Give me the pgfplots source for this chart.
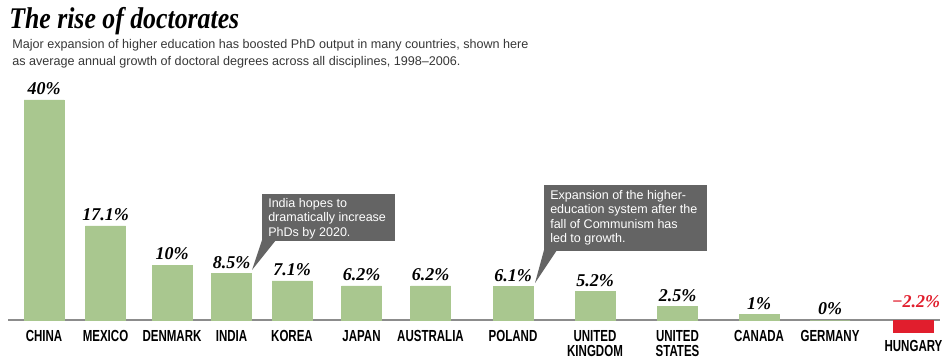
\documentclass[border=0pt]{standalone}
\usepackage{fontspec}
\setmainfont{Liberation Sans}
\newfontfamily\condfont[FakeStretch=0.72]{Liberation Sans}
\newfontfamily\valfont{Liberation Serif}
\newfontfamily\titlefont[FakeStretch=0.86]{Liberation Serif}
\usepackage{pgfplots}
\pgfplotsset{compat=1.18}
\definecolor{bargreen}{RGB}{169,199,143}
\definecolor{hred}{RGB}{225,30,45}
\definecolor{boxgray}{RGB}{100,100,100}
\definecolor{subgray}{RGB}{55,55,55}
\definecolor{axgray}{RGB}{140,140,140}
\begin{document}
\begin{tikzpicture}
\begin{axis}[
  name=ax,
  scale only axis, width=711pt, height=271.5pt,
  xmin=0, xmax=948, ymin=-7.6364, ymax=58.1818,
  axis x line=middle, axis y line=none,
  x axis line style={axgray, line width=1.2pt, -, shorten <=6pt, shorten >=6pt},
  xtick={44,105.5,172,231.5,292,361.5,430.5,513,595,677.5,759,830,913.5},
  xticklabels={CHINA,MEXICO,DENMARK,INDIA,KOREA,JAPAN,AUSTRALIA,POLAND,{UNITED\\KINGDOM},{UNITED\\STATES},CANADA,GERMANY,{\rule{0pt}{16pt}HUNGARY}},
  major tick length=0pt,
  xticklabel style={font=\condfont\bfseries\fontsize{12}{11.5}\selectfont, align=center, anchor=north, yshift=-4pt, text=black},
  ytick=\empty,
  clip=false,
  ybar, bar width=30pt,
]
\addplot[bar shift=0pt, fill=bargreen, draw=bargreen, line width=0.6pt,
  nodes near coords, point meta=explicit symbolic,
  every node near coord/.append style={font=\valfont\bfseries\itshape\fontsize{13.5}{13.5}\selectfont, text=black}]
  coordinates {
  (44,40) [40\%]
  (105.5,17.1) [17.1\%]
  (172,10) [10\%]
  (231.5,8.5) [8.5\%]
  (292,7.1) [7.1\%]
  (361.5,6.2) [6.2\%]
  (430.5,6.2) [6.2\%]
  (513,6.1) [6.1\%]
  (595,5.2) [5.2\%]
  (677.5,2.5) [2.5\%]
  (759,1) [1\%]
  (830,0) [0\%]
  };
\addplot[bar shift=0pt, fill=hred, draw=hred, line width=0.6pt]
  coordinates {(913.5,-2.2)};
\node[font=\valfont\bfseries\itshape\fontsize{13.5}{13.5}\selectfont, text=hred] at (axis cs:916,3.4) {−2.2\%};
% title and subtitle
\node[anchor=base west, inner sep=0pt, font=\titlefont\bfseries\itshape\fontsize{22.5}{22.5}\selectfont] at (axis cs:9,{(320-28)/5.5}) {The rise of doctorates};
\node[anchor=north west, inner sep=0pt, align=left, text=subgray, font=\fontsize{9.45}{12.75}\selectfont] at (axis cs:12,{(320-39)/5.5}) {Major expansion of higher education has boosted PhD output in many countries, shown here\\as average annual growth of doctoral degrees across all disciplines, 1998–2006.};
% India callout
\fill[boxgray] (axis cs:262,{(320-194)/5.5}) rectangle (axis cs:395,{(320-241)/5.5});
\fill[boxgray] (axis cs:262,{(320-240)/5.5}) -- (axis cs:276,{(320-240)/5.5}) -- (axis cs:252,{(320-270)/5.5}) -- cycle;
\node[anchor=north west, inner sep=0pt, align=left, text=white, font=\fontsize{9.4}{10.9}\selectfont] at (axis cs:268,{(320-198)/5.5}) {India hopes to\\dramatically increase\\PhDs by 2020.};
% Poland callout
\fill[boxgray] (axis cs:544,{(320-185)/5.5}) rectangle (axis cs:707,{(320-251)/5.5});
\fill[boxgray] (axis cs:544,{(320-250)/5.5}) -- (axis cs:557,{(320-250)/5.5}) -- (axis cs:535,{(320-283)/5.5}) -- cycle;
\node[anchor=north west, inner sep=0pt, align=left, text=white, font=\fontsize{9.4}{10.9}\selectfont] at (axis cs:550,{(320-190)/5.5}) {Expansion of the higher-\\education system after the\\fall of Communism has\\led to growth.};
\end{axis}
\pgfresetboundingbox
\path[use as bounding box] (ax.south west) rectangle (ax.north east);
\end{tikzpicture}
\end{document}
